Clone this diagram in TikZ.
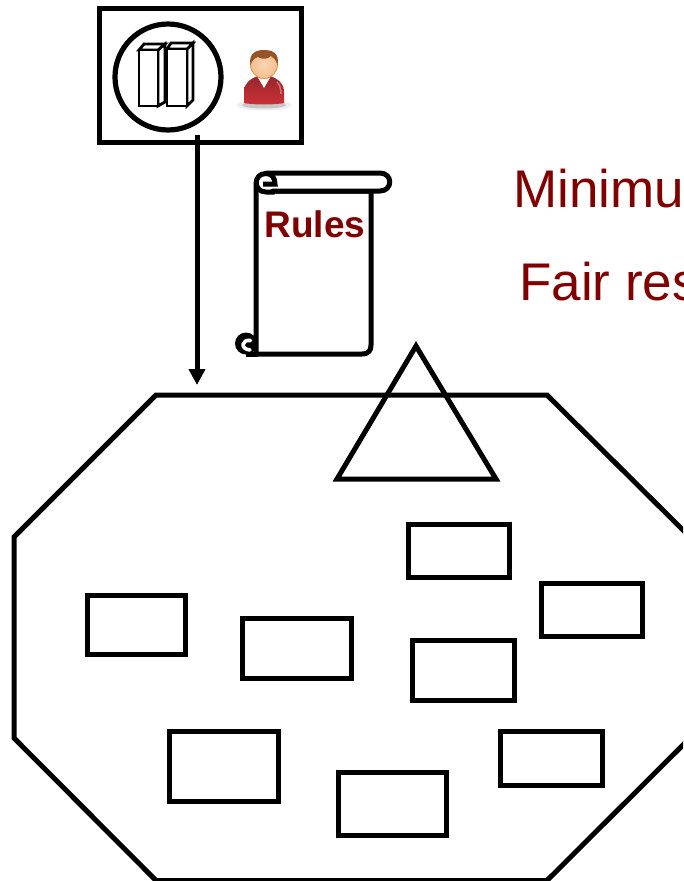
\documentclass[tikz,border=0pt]{standalone}
\usepackage{fontspec}
\setmainfont{Liberation Sans}
\usetikzlibrary{arrows.meta}
\definecolor{darkred}{RGB}{128,0,0}
\definecolor{shirt}{RGB}{205,50,54}
\definecolor{shirtd}{RGB}{150,38,44}
\definecolor{skin}{RGB}{244,190,142}
\definecolor{skinl}{RGB}{252,214,178}
\definecolor{skine}{RGB}{225,140,70}
\definecolor{hair}{RGB}{150,85,40}
\tikzset{
  ol/.style={draw=black,line width=5pt,line join=miter},
  box/.style={draw=black,line width=5pt,fill=white,inner sep=0pt},
  thin3d/.style={draw=black,line width=2.8pt,fill=white,line join=miter},
  scrollline/.style={draw=black,line width=5pt,line join=round},
  big/.style={text=darkred,font=\fontsize{53}{53}\selectfont,anchor=base west,inner sep=0pt}
}
\begin{document}
\begin{tikzpicture}[x=1pt,y=-1pt]
\useasboundingbox (0,0) rectangle (683,881);
\clip (0,0) rectangle (683,881);
% octagon
\draw[ol] (156,395) -- (547,395) -- (690,537) -- (690,738) -- (547,880.5) -- (156,880.5) -- (14,738) -- (14,537) -- cycle;
% triangle
\draw[ol] (416,346) -- (496,479) -- (337,479) -- cycle;
% boxes
\foreach \n/\xa/\ya/\xb/\yb in {r1/408/524/509/577, r2/541/583/642/636, r3/87/595/185/654, r4/242/618/351/678, r5/412/640/514/700, r6/169/731/278/801, r7/338/772/446/835, r8/500/731/602/785}{
  \node[box,minimum width={(\xb-\xa)*1pt},minimum height={(\yb-\ya)*1pt}] (\n) at ({(\xa+\xb)/2},{(\ya+\yb)/2}) {};
}
% top box
\node[box,minimum width=202pt,minimum height=134pt] (top) at (200,75) {};
\node[draw=black,line width=5.2pt,circle,minimum size=106pt,inner sep=0pt] (circ) at (168,77) {};
% server towers
\draw[thin3d] (158,50) -- (165,44) -- (165,102) -- (158,106) -- cycle;
\draw[thin3d] (139,50) -- (144,44) -- (165,44) -- (158,50) -- cycle;
\draw[thin3d] (139,50) rectangle (158,106);
\draw[thin3d] (187,49) -- (193,43) -- (193,100) -- (187,106) -- cycle;
\draw[thin3d] (167,49) -- (171,43) -- (193,43) -- (187,49) -- cycle;
\draw[thin3d] (167,49) rectangle (187,106);
% person
\fill[black!7] (264,105) ellipse (27 and 5.5);
\fill[black!22] (264,105) ellipse (22 and 3.5);
\shade[top color=shirtd,bottom color=shirt,middle color=shirtd!50!shirt]
  (244,103) -- (244,92) .. controls (244,83) and (250,79) .. (258,76) -- (270,76) .. controls (278,79) and (284,83) .. (284,92) -- (284,103) .. controls (275,105) and (253,105) .. (244,103) -- cycle;
\draw[white,opacity=.35,line width=1.5pt] (277,82) .. controls (280,85) and (281,89) .. (281,94);
\fill[white] (257,76) -- (271,76) -- (264,88) -- cycle;
\shade[inner color=skinl,outer color=skin,draw=skine,line width=.8pt] (264,64.5) ellipse (13.5 and 14);
\fill[hair] (250.5,65) .. controls (248,52) and (258,50) .. (264,50) .. controls (271,50) and (280,52) .. (277.5,65) .. controls (276,60) and (274,58) .. (271,56) .. controls (267,60) and (261,59) .. (258,57) .. controls (254,58) and (252,61) .. (250.5,65) -- cycle;
% arrow
\coordinate (arrowstart) at (197,135);
\coordinate (arrowend) at (197,385);
\draw[line width=5pt,-{Triangle[length=16pt,width=16pt]}] (arrowstart) -- (arrowend);
% scroll
\draw[scrollline,fill=white] (256,183) -- (256,354) -- (362,354) .. controls (369,354) and (371,350) .. (371,345) -- (371,191) -- (266,191) -- cycle;
\draw[scrollline,fill=white] (266,173) -- (380,173) .. controls (393,173) and (393,191) .. (380,191) -- (266,191);
% top curl
\fill[white] (266,182) circle (9);
\draw[line width=5pt] (274.5,192) -- (266,192) .. controls (253,192) and (253,173.5) .. (266,173.5) .. controls (272,173.5) and (275,178) .. (275,184) -- (263,184);
% bottom curl
\fill[black] (246,343.5) circle (11);
\draw[white,line width=3.6pt,line cap=round] (250.5,340.5) .. controls (242,339) and (239.5,349) .. (250,350);
\draw[line width=5pt] (246,354) -- (258,354);
\node[text=darkred,font=\bfseries\fontsize{37}{37}\selectfont,anchor=base,inner sep=0pt] (rules) at (315,237) {Rules};
% texts
\node[big] (t1) at (513,207) {Minimum};
\node[big] (t2) at (519,300) {Fair resource};
\end{tikzpicture}
\end{document}
